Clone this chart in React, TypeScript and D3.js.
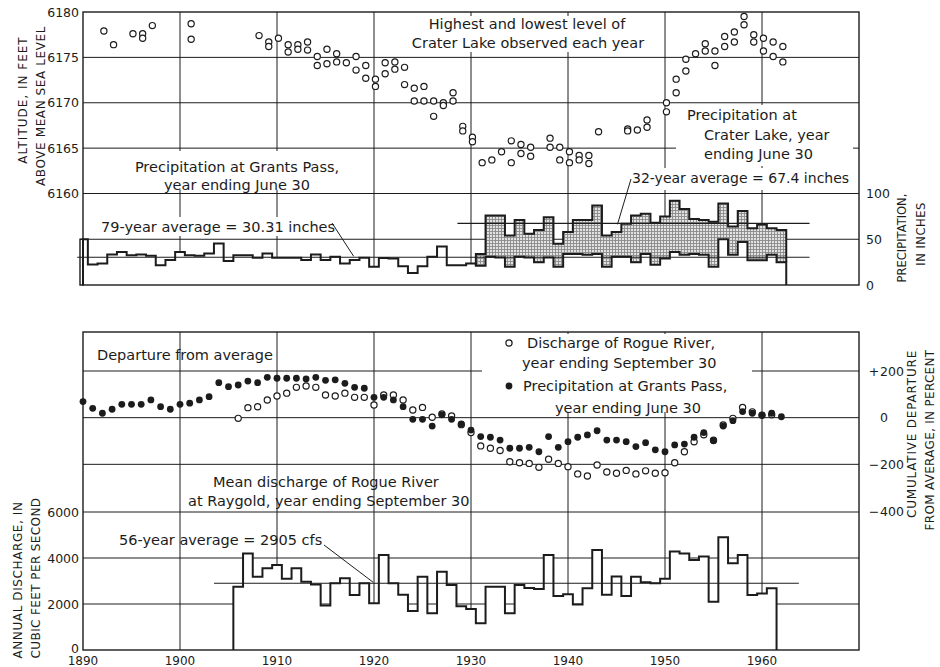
import React, { useRef, useEffect } from 'react';
import * as d3 from 'd3';

// Crater Lake: highest and lowest level observed each year (feet); null = single reading
const lakeYears = [1892, 1893, 1895, 1896, 1897, 1901, 1908, 1909, 1910, 1911, 1912, 1913, 1914, 1915, 1916, 1917, 1918, 1919, 1920, 1921, 1922, 1923, 1924, 1925, 1926, 1927, 1928, 1929, 1930, 1931, 1932, 1933, 1934, 1935, 1936, 1938, 1939, 1940, 1941, 1942, 1943, 1946, 1947, 1948, 1950, 1951, 1952, 1953, 1954, 1955, 1956, 1957, 1958, 1959, 1960, 1961, 1962];
const lakeHigh = [6177.9, 6176.4, 6177.6, 6177.6, 6178.5, 6178.7, 6177.4, 6176.7, 6177.1, 6176.4, 6176.4, 6176.7, 6175.1, 6175.9, 6175.4, 6174.4, 6175.1, 6174.1, 6172.6, 6174.4, 6174.5, 6173.9, 6171.6, 6171.8, 6170.2, 6170.0, 6171.1, 6167.4, 6166.2, 6163.4, 6163.7, 6164.6, 6165.8, 6165.4, 6165.1, 6166.1, 6165.1, 6164.6, 6164.2, 6164.2, 6166.8, 6167.1, 6167.0, 6168.1, 6170.0, 6172.6, 6174.8, 6175.4, 6176.5, 6175.7, 6177.3, 6177.8, 6179.5, 6177.5, 6177.1, 6176.7, 6176.2];
const lakeLow = [null, null, null, 6177.1, null, 6177.0, null, 6176.2, null, 6175.6, 6175.9, 6175.8, 6174.1, 6174.3, 6174.5, null, 6173.6, 6172.7, 6171.8, 6173.2, 6173.7, 6172.0, 6170.2, 6170.2, 6168.5, 6169.7, 6170.2, 6166.9, 6165.7, null, null, null, 6163.4, 6164.4, 6164.1, 6165.1, 6163.7, 6163.4, 6163.7, 6163.3, null, 6166.9, null, 6167.3, 6169.0, 6171.1, 6173.5, null, 6175.7, 6174.1, 6176.2, 6176.7, 6178.6, 6176.7, 6175.7, 6175.1, 6174.5];

// Precipitation at Grants Pass, year ending June 30 (inches), 1890-1962
const grantsStart = 1890;
const grantsPrecip = [
  50, 22.5, 23.6, 33.3, 36.2, 32.6, 33.3, 31.9, 21.7, 27.2,
  36.2, 32.6, 31.9, 34.4, 45.3, 26.1, 32.6, 32.6, 29.7, 34.4,
  29.7, 29.7, 29.7, 27.2, 33.3, 27.2, 30.8, 23.6, 27.2, 29.7,
  19.9, 29.5, 29, 20.5, 13, 20.5, 30.8, 42, 21.7, 21.7,
  23.6, 21, 31, 30, 20, 31, 30, 25, 30, 20,
  34, 34, 33, 34, 20, 31, 31, 25, 34, 22,
  29, 36, 33, 34, 33, 20, 50, 33, 47, 27,
  27, 33, 25,
];
const grantsAvg = 30.31;

// Precipitation at Crater Lake, year ending June 30 (inches), 1931-1962
const craterStart = 1931;
const craterPrecip = [
  34, 76, 76, 54, 71, 56, 60, 74, 45, 58,
  71, 71, 87, 54, 58, 67, 76, 78, 68, 75,
  92, 83, 72, 71, 69, 89, 64, 81, 62, 66,
  62, 60,
];
const craterAvg = 67.4;

// Mean discharge of Rogue River at Raygold, year ending Sept 30 (cfs), 1906-1961
const flowStart = 1906;
const flowCfs = [
  2750, 4200, 3190, 3550, 3700, 3100, 3550, 2970, 2850, 1930,
  2900, 3120, 2390, 2900, 2030, 4130, 2900, 2400, 1700, 3190,
  1600, 3400, 2830, 1900, 1780, 1160, 2750, 2750, 1600, 2830,
  2700, 2650, 4130, 2350, 2420, 1980, 2680, 4350, 2400, 3200,
  2350, 3190, 2950, 2900, 3100, 4280, 4200, 3910, 4060, 2100,
  4900, 3770, 4130, 2390, 2460, 2680,
];
const flowAvg = 2905;

// Cumulative departure from average (percent)
const depPrecip = [
  69, 40, 19, 36, 57, 57, 57, 76, 47, 36,
  57, 62, 76, 90, 150, 133, 140, 157, 150, 173,
  169, 169, 169, 166, 173, 160, 162, 147, 130, 126,
  87, 87, 76, 47, -7, -7, -36, 12, -7, -27,
  -53, -81, -84, -96, -131, -131, -127, -146, -81, -127,
  -103, -84, -74, -56, -96, -96, -103, -124, -107, -138,
  -146, -117, -113, -84, -64, -99, -36, -13, 26, 19,
  12, 19, 4,
];
const depFlow = [
  -3, 43, 47, 76, 93, 105, 130, 136, 130, 97,
  93, 105, 87, 87, 54, 97, 97, 76, 33, 44,
  2, 16, 7, -30, -64, -121, -131, -141, -189, -193,
  -196, -213, -178, -196, -210, -241, -250, -203, -233, -238,
  -226, -241, -228, -238, -236, -193, -146, -103, -73, -97,
  -31, -3, 44, 25, 10, 12,
];

const decades = [1890, 1900, 1910, 1920, 1930, 1940, 1950, 1960];
const altTicks = [6180, 6175, 6170, 6165, 6160];
const precipTicks = [100, 50, 0];
const cfsTicks = [6000, 4000, 2000, 0];
const depTicks = [200, 0, -200, -400];

const INK = '#1c1c1c';
const FONT = '"DejaVu Sans", sans-serif';

type Step = { yr: number; v: number };

// bars centred on each year, as a step outline
const toSteps = (start: number, vals: number[], clipFrom = -Infinity): Step[] => {
  const pts = vals.map((v, i) => ({ yr: Math.max(start + i - 0.5, clipFrom), v }));
  pts.push({ yr: start + vals.length - 0.5, v: vals[vals.length - 1] });
  return pts;
};

const App: React.FC = () => {
  const svgRef = useRef<SVGSVGElement>(null);

  useEffect(() => {
    if (!svgRef.current) return;
    const svg = d3.select(svgRef.current);
    svg.selectAll('*').remove();

    const x = d3.scaleLinear().domain([1890, 1970]).range([83, 859]);
    const yAlt = d3.scaleLinear().domain([6160, 6180]).range([193.5, 12]);
    const yPrec = d3.scaleLinear().domain([0, 100]).range([285, 193.5]);
    const yCfs = d3.scaleLinear().domain([0, 6000]).range([650, 512]);
    const yDep = d3.scaleLinear().domain([-400, 200]).range([511, 371]);

    const topPanel = { y0: yAlt(6180), y1: yPrec(0) };
    const botPanel = { y0: 332, y1: yCfs(0) };
    const xL = x(1890), xR = x(1970);

    const defs = svg.append('defs');
    const pat = defs.append('pattern')
      .attr('id', 'stipple')
      .attr('width', 3).attr('height', 3)
      .attr('patternUnits', 'userSpaceOnUse');
    pat.append('rect').attr('width', 3).attr('height', 3).attr('fill', '#e2e2e2');
    pat.append('path').attr('d', 'M0,0.5H3M0.5,0V3').attr('stroke', '#8a8a8a').attr('stroke-width', 0.9);

    svg.append('rect').attr('width', 940).attr('height', 667).attr('fill', '#fff');

    const grid = svg.append('g').attr('stroke', INK).attr('stroke-width', 1);

    // top panel grid
    altTicks.slice(1).forEach(a => {
      grid.append('line').attr('x1', xL).attr('x2', xR).attr('y1', yAlt(a)).attr('y2', yAlt(a));
    });
    grid.append('line').attr('x1', xL - 3).attr('x2', xR).attr('y1', yPrec(50)).attr('y2', yPrec(50));
    // bottom panel grid
    depTicks.slice(0, 3).forEach(d => {
      grid.append('line').attr('x1', xL).attr('x2', xR).attr('y1', yDep(d)).attr('y2', yDep(d));
    });
    cfsTicks.slice(0, 3).forEach(c => {
      grid.append('line').attr('x1', xL).attr('x2', xR).attr('y1', yCfs(c)).attr('y2', yCfs(c));
    });
    decades.slice(1).forEach(dk => {
      grid.append('line').attr('x1', x(dk)).attr('x2', x(dk)).attr('y1', topPanel.y0).attr('y2', topPanel.y1);
      grid.append('line').attr('x1', x(dk)).attr('x2', x(dk)).attr('y1', botPanel.y0).attr('y2', botPanel.y1);
    });

    // white boxes behind the labels
    const boxes = [
      [425, 16, 205, 36],
      [88, 151, 272, 39],
      [98, 217, 238, 19],
      [676, 105, 177, 61],
      [628, 168, 225, 22],
      [482, 334, 270, 78],
    ];
    boxes.forEach(([bx, by, bw, bh]) => {
      svg.append('rect').attr('x', bx).attr('y', by).attr('width', bw).attr('height', bh).attr('fill', '#fff');
    });

    // precipitation histograms
    const gpSteps = toSteps(grantsStart, grantsPrecip, 1890);
    const gpEnd = grantsStart + grantsPrecip.length - 0.5;
    const areaP = d3.area<Step>().x(d => x(d.yr)).y0(yPrec(0)).y1(d => yPrec(d.v)).curve(d3.curveStepAfter);
    svg.append('path').attr('d', areaP(gpSteps)!).attr('fill', '#fff');

    const clSteps = toSteps(craterStart, craterPrecip);
    const gpFor = (yr: number) => grantsPrecip[Math.min(Math.round(yr + 0.5) - grantsStart, grantsPrecip.length - 1)];
    const shade = d3.area<Step>()
      .x(d => x(d.yr))
      .y0(d => yPrec(gpFor(d.yr)))
      .y1(d => yPrec(d.v))
      .curve(d3.curveStepAfter);
    svg.append('path').attr('d', shade(clSteps)!).attr('fill', 'url(#stipple)');

    // discharge histogram
    const qSteps = toSteps(flowStart, flowCfs);
    const qEnd = flowStart + flowCfs.length - 0.5;
    const areaQ = d3.area<Step>().x(d => x(d.yr)).y0(yCfs(0)).y1(d => yCfs(d.v)).curve(d3.curveStepAfter);
    svg.append('path').attr('d', areaQ(qSteps)!).attr('fill', '#fff');

    // average lines
    const avg = svg.append('g').attr('stroke', INK).attr('stroke-width', 1.1);
    avg.append('line').attr('x1', x(1889.4)).attr('x2', x(1964.9)).attr('y1', yPrec(grantsAvg)).attr('y2', yPrec(grantsAvg));
    avg.append('line').attr('x1', x(1928.6)).attr('x2', x(1964.9)).attr('y1', yPrec(craterAvg)).attr('y2', yPrec(craterAvg));
    avg.append('line').attr('x1', x(1903.5)).attr('x2', x(1963.8)).attr('y1', yCfs(flowAvg)).attr('y2', yCfs(flowAvg));

    // step outlines
    const stepP = d3.line<Step>().x(d => x(d.yr)).y(d => yPrec(d.v)).curve(d3.curveStepAfter);
    const stepQ = d3.line<Step>().x(d => x(d.yr)).y(d => yCfs(d.v)).curve(d3.curveStepAfter);
    const addPath = (d: string) => {
      svg.append('path').attr('d', d)
        .attr('stroke', INK).attr('stroke-width', 2).attr('fill', 'none');
    };
    addPath(stepP([{ yr: 1890, v: 0 }, ...gpSteps, { yr: gpEnd, v: 0 }])!);
    addPath(stepP([
      { yr: craterStart - 0.5, v: gpFor(craterStart - 0.5) },
      ...clSteps,
      { yr: gpEnd, v: grantsPrecip[grantsPrecip.length - 1] },
    ])!);
    addPath(stepQ([{ yr: flowStart - 0.5, v: 0 }, ...qSteps, { yr: qEnd, v: 0 }])!);

    // leader lines
    const lead = svg.append('g').attr('stroke', INK).attr('stroke-width', 1);
    lead.append('line').attr('x1', 332).attr('y1', 223).attr('x2', x(1917.9)).attr('y2', yPrec(grantsAvg) - 1);
    lead.append('line').attr('x1', 631).attr('y1', 179).attr('x2', x(1945.1)).attr('y2', yPrec(craterAvg) + 1);
    lead.append('line').attr('x1', 324).attr('y1', 545).attr('x2', x(1919.9)).attr('y2', yCfs(flowAvg) - 1);

    // frames
    const frame = svg.append('g').attr('fill', 'none').attr('stroke', INK).attr('stroke-width', 1.4);
    frame.append('rect').attr('x', xL).attr('y', topPanel.y0).attr('width', xR - xL).attr('height', topPanel.y1 - topPanel.y0);
    frame.append('rect').attr('x', xL - 3).attr('y', yPrec(50)).attr('width', 3).attr('height', yPrec(0) - yPrec(50));
    frame.append('rect').attr('x', xL).attr('y', botPanel.y0).attr('width', xR - xL).attr('height', botPanel.y1 - botPanel.y0);

    // lake levels
    const lakePts: { yr: number; a: number }[] = [];
    lakeYears.forEach((yr, i) => {
      lakePts.push({ yr, a: lakeHigh[i] });
      if (lakeLow[i] != null) lakePts.push({ yr, a: lakeLow[i] as number });
    });
    svg.append('g').selectAll('circle').data(lakePts).enter().append('circle')
      .attr('cx', d => x(d.yr + 0.15)).attr('cy', d => yAlt(d.a)).attr('r', 3.1)
      .attr('fill', '#fff').attr('stroke', INK).attr('stroke-width', 1.2);

    // cumulative departure
    svg.append('g').selectAll('circle').data(depFlow).enter().append('circle')
      .attr('cx', (_, i) => x(flowStart + i)).attr('cy', d => yDep(d)).attr('r', 3.1)
      .attr('fill', '#fff').attr('stroke', INK).attr('stroke-width', 1.2);
    svg.append('g').selectAll('circle').data(depPrecip).enter().append('circle')
      .attr('cx', (_, i) => x(grantsStart + i)).attr('cy', d => yDep(d)).attr('r', 3.4)
      .attr('fill', INK);

    // legend symbols
    svg.append('circle').attr('cx', 509).attr('cy', 343).attr('r', 3.1).attr('fill', '#fff').attr('stroke', INK).attr('stroke-width', 1.2);
    svg.append('circle').attr('cx', 509).attr('cy', 386).attr('r', 3.4).attr('fill', INK);

    // text
    const txt = (s: string, tx: number, ty: number, opts: { anchor?: string; size?: number; ls?: number; rot?: boolean } = {}) => {
      const t = svg.append('text')
        .attr('font-family', FONT)
        .attr('font-size', opts.size ?? 14.5)
        .attr('fill', INK)
        .attr('text-anchor', opts.anchor ?? 'start')
        .text(s);
      if (opts.ls) t.attr('letter-spacing', opts.ls);
      if (opts.rot) t.attr('transform', `translate(${tx},${ty}) rotate(-90)`);
      else t.attr('x', tx).attr('y', ty);
      return t;
    };

    txt('Highest and lowest level of', 527, 29, { anchor: 'middle' });
    txt('Crater Lake observed each year', 528, 48, { anchor: 'middle' });
    txt('Precipitation at Grants Pass,', 237, 172, { anchor: 'middle' });
    txt('year ending June 30', 237, 190, { anchor: 'middle' });
    txt('79-year average = 30.31 inches', 101, 232);
    txt('Precipitation at', 687, 120);
    txt('Crater Lake, year', 704, 140);
    txt('ending June 30', 704, 159);
    txt('32-year average = 67.4 inches', 632, 183, { size: 14 });

    txt('Departure from average', 97, 360);
    txt('Discharge of Rogue River,', 527, 348);
    txt('year ending September 30', 522, 368);
    txt('Precipitation at Grants Pass,', 523, 391);
    txt('year ending June 30', 555, 413);
    txt('Mean discharge of Rogue River', 213, 487);
    txt('at Raygold, year ending September 30', 188, 506);
    txt('56-year average = 2905 cfs', 119, 545);

    // axis tick labels
    altTicks.forEach(a => txt(String(a), 79, yAlt(a) + 4.5, { anchor: 'end', size: 12.5 }));
    cfsTicks.forEach(c => txt(String(c), 79, yCfs(c) + (c === 0 ? 2.5 : 4.5), { anchor: 'end', size: 12.5 }));
    precipTicks.forEach(p => txt(String(p), 866, yPrec(p) + 4.5, { size: 12.5 }));
    depTicks.forEach(d => {
      const sign = d > 0 ? '+' : d < 0 ? '\u2212' : '';
      if (sign) txt(sign, 874, yDep(d) + 4.5, { anchor: 'middle', size: 12.5 });
      txt(String(Math.abs(d)), 880, yDep(d) + 4.5, { size: 12.5 });
    });
    decades.forEach(dk => txt(String(dk), x(dk), 665, { anchor: 'middle', size: 12 }));

    // axis titles
    txt('ALTITUDE, IN FEET', 27, 100, { anchor: 'middle', size: 12, ls: 1, rot: true });
    txt('ABOVE MEAN SEA LEVEL', 45, 106, { anchor: 'middle', size: 12, ls: 0.6, rot: true });
    txt('ANNUAL DISCHARGE, IN', 22, 580, { anchor: 'middle', size: 12, ls: 0.6, rot: true });
    txt('CUBIC FEET PER SECOND', 40, 578, { anchor: 'middle', size: 12, ls: 0.4, rot: true });
    txt('PRECIPITATION,', 906, 238, { anchor: 'middle', size: 11.5, rot: true });
    txt('IN INCHES', 925, 234, { anchor: 'middle', size: 11.5, ls: 0.5, rot: true });
    txt('CUMULATIVE DEPARTURE', 916, 434, { anchor: 'middle', size: 12, ls: 0.8, rot: true });
    txt('FROM AVERAGE, IN PERCENT', 934, 440, { anchor: 'middle', size: 12, ls: 0.3, rot: true });
  }, []);

  return (
    <svg
      ref={svgRef}
      width={940}
      height={667}
      style={{ position: 'absolute', left: 0, top: 0, background: '#fff' }}
    />
  );
};

export default App;
